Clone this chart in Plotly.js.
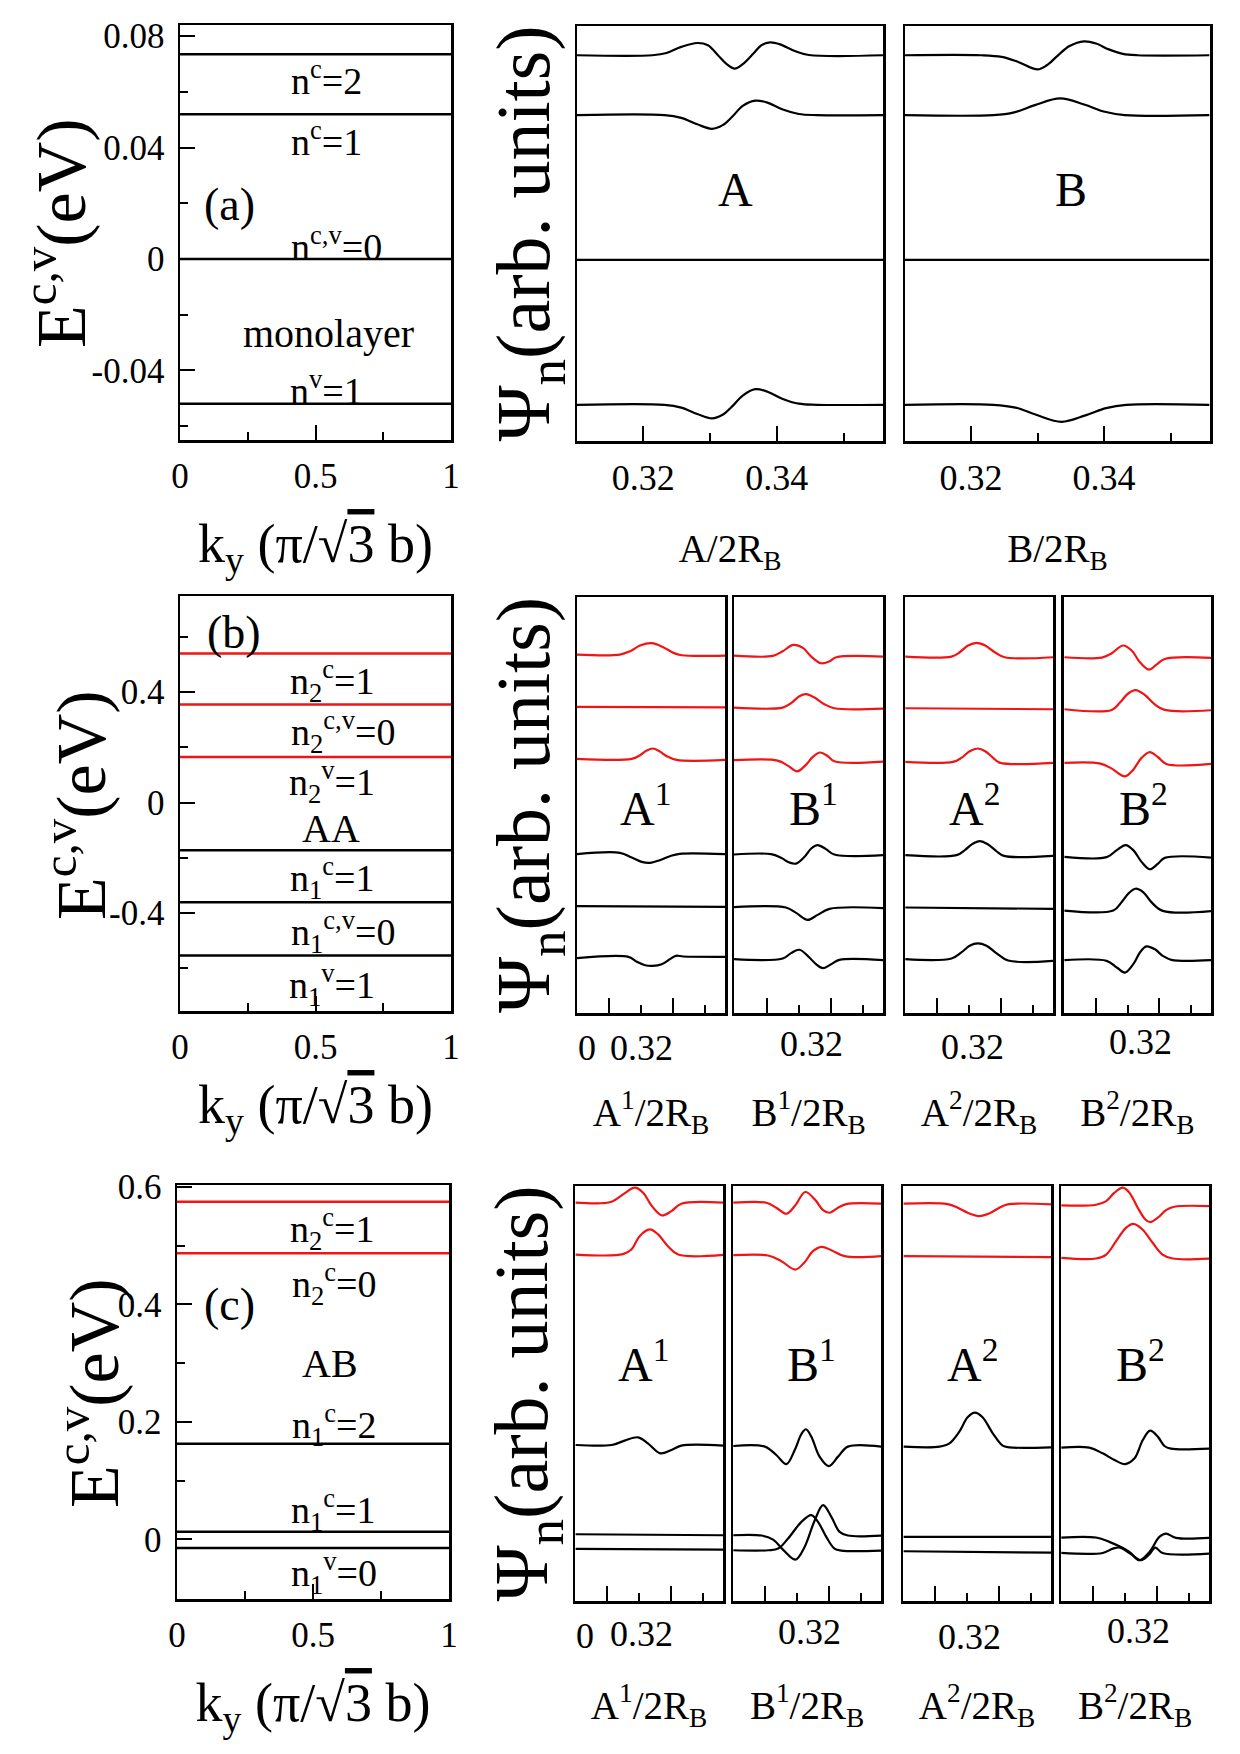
<!DOCTYPE html>
<html><head><meta charset="utf-8">
<script src="https://cdn.plot.ly/plotly-3.0.1.min.js"></script>
<style>html,body{margin:0;padding:0;background:#fff}#chart{width:1240px;height:1754px}</style>
</head><body><div id="chart"></div>
<script>
// ===================== DATA =====================
// --- x-axis tick values of the energy panels ---
const kyEnds = [0, 1];
const kyTicks = [0, 0.5, 1];
const kyTickText = ['0', '0.5', '1'];
const kyMinor = [0.25, 0.75];

// --- (a) monolayer ---
const monoYTicks = [-0.04, 0, 0.04, 0.08];
const monoYTickText = ['-0.04', '0', '0.04', '0.08'];
const monoYMinor = [-0.06, -0.02, 0.02, 0.06];
const monoLevels = [0.0735, 0.052, 0, -0.052];
const monoXTicks = [0.32, 0.34];
const monoXTickText = ['0.32', '0.34'];
const monoXMinor = [0.33, 0.35];

const monoA_x = [
  [0.3101, 0.3214, 0.3235, 0.3257, 0.3281, 0.3297, 0.3312, 0.3325, 0.3337, 0.3349, 0.3365, 0.3377, 0.3390, 0.3405, 0.3427, 0.3448, 0.3559],
  [0.3101, 0.3232, 0.3257, 0.3281, 0.3303, 0.3319, 0.3334, 0.3349, 0.3368, 0.3386, 0.3408, 0.3433, 0.3460, 0.3559],
  [0.3101, 0.3559],
  [0.3101, 0.3232, 0.3257, 0.3281, 0.3303, 0.3319, 0.3334, 0.3349, 0.3368, 0.3386, 0.3408, 0.3433, 0.3460, 0.3559]
];
const monoA_y = [
  [0.0735, 0.0735, 0.0743, 0.0765, 0.0779, 0.0771, 0.0735, 0.0703, 0.0687, 0.0703, 0.0741, 0.0771, 0.0781, 0.0774, 0.0750, 0.0736, 0.0735],
  [0.052, 0.052, 0.0510, 0.0487, 0.0471, 0.0484, 0.0516, 0.0553, 0.0572, 0.0565, 0.0541, 0.0524, 0.052, 0.052],
  [0, 0],
  [-0.052, -0.052, -0.0530, -0.0553, -0.0569, -0.0556, -0.0524, -0.0487, -0.0464, -0.0473, -0.0498, -0.0516, -0.052, -0.052]
];
const monoB_x = [
  [0.3101, 0.3215, 0.3246, 0.3271, 0.3300, 0.3314, 0.3330, 0.3348, 0.3370, 0.3388, 0.3407, 0.3428, 0.3450, 0.3558],
  [0.3101, 0.3234, 0.3265, 0.3296, 0.3334, 0.3370, 0.3401, 0.3431, 0.3558],
  [0.3101, 0.3558],
  [0.3101, 0.3234, 0.3267, 0.3298, 0.3336, 0.3372, 0.3403, 0.3433, 0.3558]
];
const monoB_y = [
  [0.0735, 0.0735, 0.0729, 0.0711, 0.0684, 0.0699, 0.0733, 0.0768, 0.0785, 0.0777, 0.0756, 0.0740, 0.0735, 0.0735],
  [0.052, 0.052, 0.053, 0.0556, 0.058, 0.0558, 0.0532, 0.052, 0.052],
  [0, 0],
  [-0.052, -0.052, -0.053, -0.0556, -0.0581, -0.0558, -0.0532, -0.052, -0.052]
];

// --- (b) AA bilayer ---
const aaYTicks = [-0.4, 0, 0.4];
const aaYTickText = ['-0.4', '0', '0.4'];
const aaYMinor = [-0.6, -0.2, 0.2, 0.6];
const aaLevelsUpper = [0.54, 0.355, 0.165];
const aaLevelsLower = [-0.173, -0.361, -0.554];
const aaLayer = [2, 2, 2, 1, 1, 1];

const aaA1_x = [
  [0.2998, 0.3133, 0.3165, 0.3196, 0.3233, 0.3269, 0.3301, 0.3327, 0.3463],
  [0.2998, 0.3463],
  [0.2998, 0.3170, 0.3196, 0.3217, 0.3236, 0.3257, 0.3280, 0.3311, 0.3463],
  [0.2998, 0.3133, 0.3170, 0.3201, 0.3227, 0.3258, 0.3290, 0.3321, 0.3463],
  [0.2998, 0.3463],
  [0.2998, 0.3160, 0.3186, 0.3212, 0.3236, 0.3264, 0.3290, 0.3309, 0.3332, 0.3463]
];
const aaA1_y = [
  [0.54, 0.54, 0.5521, 0.5727, 0.5812, 0.5667, 0.5461, 0.5376, 0.5364],
  [0.351, 0.349],
  [0.1631, 0.1631, 0.1764, 0.1934, 0.2006, 0.1910, 0.1728, 0.1594, 0.1594],
  [-0.1811, -0.1763, -0.1933, -0.2090, -0.2127, -0.2030, -0.1884, -0.1799, -0.1811],
  [-0.369, -0.3714],
  [-0.5569, -0.5521, -0.5702, -0.5823, -0.5847, -0.5787, -0.5605, -0.5484, -0.5508, -0.5521]
];
const aaB1_x = [
  [0.2996, 0.3119, 0.3150, 0.3183, 0.3213, 0.3239, 0.3270, 0.3296, 0.3317, 0.3463],
  [0.2996, 0.3150, 0.3176, 0.3202, 0.3223, 0.3249, 0.3280, 0.3311, 0.3463],
  [0.2996, 0.3134, 0.3166, 0.3195, 0.3223, 0.3244, 0.3267, 0.3291, 0.3311, 0.3463],
  [0.2996, 0.3114, 0.3145, 0.3171, 0.3192, 0.3218, 0.3239, 0.3259, 0.3285, 0.3311, 0.3463],
  [0.2996, 0.3160, 0.3192, 0.3228, 0.3259, 0.3296, 0.3463],
  [0.2996, 0.3150, 0.3176, 0.3202, 0.3228, 0.3254, 0.3275, 0.3301, 0.3327, 0.3463]
];
const aaB1_y = [
  [0.5364, 0.5352, 0.5521, 0.5751, 0.5642, 0.5327, 0.5085, 0.5158, 0.5303, 0.5327],
  [0.3485, 0.3485, 0.3643, 0.3897, 0.3970, 0.3849, 0.3606, 0.3461, 0.3449],
  [0.1582, 0.1570, 0.1388, 0.1182, 0.1425, 0.1703, 0.1861, 0.1728, 0.1546, 0.1534],
  [-0.1824, -0.1811, -0.1945, -0.2115, -0.2151, -0.1908, -0.1606, -0.1484, -0.1630, -0.1824, -0.1848],
  [-0.3726, -0.3738, -0.3932, -0.4187, -0.4005, -0.3787, -0.3762],
  [-0.5605, -0.5581, -0.5387, -0.5266, -0.5484, -0.5787, -0.5932, -0.5787, -0.5629, -0.5641]
];
const aaA2_x = [
  [0.2999, 0.3144, 0.3170, 0.3196, 0.3224, 0.3250, 0.3280, 0.3311, 0.3463],
  [0.2999, 0.3463],
  [0.2999, 0.3149, 0.3175, 0.3201, 0.3227, 0.3250, 0.3275, 0.3295, 0.3463],
  [0.2999, 0.3160, 0.3186, 0.3209, 0.3233, 0.3259, 0.3285, 0.3309, 0.3463],
  [0.2999, 0.3463],
  [0.2999, 0.3144, 0.3175, 0.3201, 0.3227, 0.3254, 0.3285, 0.3322, 0.3463]
];
const aaA2_y = [
  [0.5327, 0.5327, 0.5485, 0.5727, 0.5824, 0.5727, 0.5485, 0.5303, 0.5303],
  [0.3461, 0.3424],
  [0.1522, 0.1522, 0.1667, 0.1909, 0.2006, 0.1909, 0.1667, 0.1497, 0.1485],
  [-0.1848, -0.1848, -0.1666, -0.1448, -0.1339, -0.1460, -0.1702, -0.1872, -0.1872],
  [-0.3738, -0.3787],
  [-0.5605, -0.5581, -0.5363, -0.5120, -0.5035, -0.5120, -0.5387, -0.5654, -0.5666]
];
const aaB2_x = [
  [0.3001, 0.3119, 0.3150, 0.3186, 0.3213, 0.3239, 0.3267, 0.3291, 0.3317, 0.3463],
  [0.3001, 0.3150, 0.3176, 0.3202, 0.3225, 0.3254, 0.3285, 0.3317, 0.3463],
  [0.3001, 0.3114, 0.3150, 0.3192, 0.3218, 0.3244, 0.3270, 0.3296, 0.3322, 0.3463],
  [0.3001, 0.3134, 0.3166, 0.3194, 0.3218, 0.3244, 0.3270, 0.3296, 0.3317, 0.3463],
  [0.3001, 0.3155, 0.3181, 0.3204, 0.3225, 0.3249, 0.3275, 0.3311, 0.3463],
  [0.3001, 0.3134, 0.3166, 0.3192, 0.3218, 0.3239, 0.3259, 0.3285, 0.3311, 0.3338, 0.3463]
];
const aaB2_y = [
  [0.5303, 0.5291, 0.5448, 0.5727, 0.5545, 0.5121, 0.4855, 0.5036, 0.5242, 0.5279],
  [0.3424, 0.3400, 0.3667, 0.3994, 0.4115, 0.3946, 0.3606, 0.3400, 0.3388],
  [0.1485, 0.1461, 0.1279, 0.1000, 0.1243, 0.1667, 0.1873, 0.1691, 0.1449, 0.1449],
  [-0.1908, -0.1920, -0.1666, -0.1484, -0.1666, -0.2090, -0.2357, -0.2151, -0.1945, -0.1933],
  [-0.3848, -0.3848, -0.3545, -0.3217, -0.3060, -0.3181, -0.3545, -0.3860, -0.3872],
  [-0.5641, -0.5666, -0.5908, -0.6090, -0.5787, -0.5363, -0.5144, -0.5241, -0.5484, -0.5629, -0.5641]
];

// --- (c) AB bilayer ---
const abYTicks = [0, 0.2, 0.4, 0.6];
const abYTickText = ['0', '0.2', '0.4', '0.6'];
const abYMinor = [0.1, 0.3, 0.5];
const abLevelsUpper = [0.575, 0.487];
const abLevelsLower = [0.163, 0.0128, -0.0146];
const abLayer = [2, 2, 1, 1, 1];

const abA1_x = [
  [0.3000, 0.3071, 0.3113, 0.3149, 0.3186, 0.3212, 0.3238, 0.3271, 0.3301, 0.3332, 0.3463],
  [0.3000, 0.3149, 0.3175, 0.3201, 0.3233, 0.3259, 0.3290, 0.3322, 0.3463],
  [0.3000, 0.3113, 0.3154, 0.3196, 0.3227, 0.3266, 0.3301, 0.3332, 0.3463],
  [0.3000, 0.3463],
  [0.3000, 0.3463]
];
const abA1_y = [
  [0.575, 0.5739, 0.5767, 0.5892, 0.6005, 0.5920, 0.5705, 0.5534, 0.5608, 0.5733, 0.575],
  [0.4870, 0.4876, 0.4955, 0.5182, 0.5296, 0.5211, 0.5012, 0.4870, 0.4865],
  [0.1635, 0.1635, 0.1709, 0.1765, 0.1663, 0.1493, 0.1550, 0.1624, 0.1624],
  [0.0119, 0.0102],
  [-0.0130, -0.0142]
];
const abB1_x = [
  [0.2999, 0.3103, 0.3134, 0.3166, 0.3192, 0.3225, 0.3255, 0.3281, 0.3302, 0.3328, 0.3354, 0.3464],
  [0.2999, 0.3108, 0.3150, 0.3194, 0.3223, 0.3249, 0.3276, 0.3307, 0.3349, 0.3464],
  [0.2999, 0.3098, 0.3134, 0.3166, 0.3192, 0.3213, 0.3227, 0.3244, 0.3270, 0.3299, 0.3328, 0.3359, 0.3464],
  [0.2999, 0.3088, 0.3124, 0.3155, 0.3194, 0.3223, 0.3255, 0.3281, 0.3307, 0.3333, 0.3359, 0.3464],
  [0.2999, 0.3109, 0.3140, 0.3171, 0.3213, 0.3244, 0.3265, 0.3291, 0.3317, 0.3338, 0.3464]
];
const abB1_y = [
  [0.575, 0.575, 0.5665, 0.5563, 0.5693, 0.5932, 0.5807, 0.5625, 0.5580, 0.5665, 0.5727, 0.5733],
  [0.4859, 0.4853, 0.4757, 0.4615, 0.4740, 0.4927, 0.5001, 0.4944, 0.4842, 0.4842],
  [0.1618, 0.1607, 0.1465, 0.1311, 0.1550, 0.1822, 0.1902, 0.1777, 0.1437, 0.1277, 0.1437, 0.1607, 0.1607],
  [0.0102, 0.0097, 0.0028, -0.0142, -0.0312, -0.0096, 0.0358, 0.0613, 0.0415, 0.0159, 0.0097, 0.0097],
  [-0.0153, -0.0153, -0.0125, 0.0046, 0.0329, 0.0443, 0.0329, 0.0074, -0.0125, -0.0159, -0.0159]
];
const abA2_x = [
  [0.3000, 0.3138, 0.3170, 0.3201, 0.3238, 0.3269, 0.3301, 0.3327, 0.3463],
  [0.3000, 0.3463],
  [0.3000, 0.3113, 0.3144, 0.3175, 0.3201, 0.3224, 0.3248, 0.3280, 0.3311, 0.3332, 0.3463],
  [0.3000, 0.3463],
  [0.3000, 0.3463]
];
const abA2_y = [
  [0.5733, 0.5727, 0.5665, 0.5580, 0.5523, 0.5568, 0.5665, 0.5722, 0.5722],
  [0.4842, 0.4825],
  [0.1607, 0.1607, 0.1663, 0.1862, 0.2106, 0.2186, 0.2106, 0.1834, 0.1624, 0.1595, 0.1595],
  [0.0074, 0.0074],
  [-0.0170, -0.0193]
];
const abB2_x = [
  [0.2999, 0.3108, 0.3140, 0.3166, 0.3192, 0.3213, 0.3239, 0.3263, 0.3278, 0.3302, 0.3328, 0.3354, 0.3464],
  [0.2999, 0.3108, 0.3140, 0.3171, 0.3202, 0.3225, 0.3254, 0.3286, 0.3317, 0.3349, 0.3464],
  [0.2999, 0.3087, 0.3129, 0.3166, 0.3200, 0.3229, 0.3255, 0.3278, 0.3302, 0.3323, 0.3343, 0.3464],
  [0.2999, 0.3108, 0.3150, 0.3213, 0.3244, 0.3276, 0.3307, 0.3328, 0.3359, 0.3464],
  [0.2999, 0.3129, 0.3161, 0.3184, 0.3213, 0.3249, 0.3276, 0.3294, 0.3317, 0.3464]
];
const abB2_y = [
  [0.5705, 0.5716, 0.5778, 0.5920, 0.6005, 0.5920, 0.5665, 0.5466, 0.5421, 0.5495, 0.5625, 0.5682, 0.5693],
  [0.4813, 0.4802, 0.4870, 0.5097, 0.5324, 0.5392, 0.5296, 0.5069, 0.4870, 0.4802, 0.4802],
  [0.1590, 0.1590, 0.1493, 0.1380, 0.1311, 0.1408, 0.1720, 0.1879, 0.1777, 0.1618, 0.1573, 0.1573],
  [0.0063, 0.0063, -0.0011, -0.0181, -0.0323, -0.0181, 0.0074, 0.0131, 0.0057, 0.0057],
  [-0.0199, -0.0199, -0.0125, -0.0108, -0.0199, -0.0323, -0.0221, -0.0108, -0.0199, -0.0210]
];

// small-panel x ticks (rows b, c)
const smallMajor = [0.31, 0.33];
const smallMinor = [0.32, 0.34];

// ===================== LAYOUT / DRAWING =====================
const FONT = '"Liberation Serif", "Times New Roman", Times, serif';
const RED = '#f01414';
const W = 1240, H = 1754;
const dX = (l, r) => [l / W, r / W];
const dY = (t, b) => [1 - b / H, 1 - t / H];

function baseAxis(o) {
  return Object.assign({
    showline: true, linecolor: '#000', linewidth: 2.5, mirror: true,
    showgrid: false, zeroline: false, ticks: 'inside', tickcolor: '#000',
    tickwidth: 2, ticklen: 15, tickmode: 'array',
    tickfont: {family: FONT, size: 35, color: '#000'},
    ticklabelstandoff: 5, fixedrange: true
  }, o);
}
function minorTicks(vals) {
  return {tickmode: 'array', tickvals: vals, ticks: 'inside', ticklen: 8,
          tickwidth: 2, tickcolor: '#000', showgrid: false};
}

const traces = [];
function ax(i) { return i === 1 ? '' : String(i); }
function addLevels(levels, color, i) {
  levels.forEach(E => traces.push({
    x: kyEnds, y: [E, E], xaxis: 'x' + ax(i), yaxis: 'y' + ax(i),
    mode: 'lines', line: {color: color, width: 2.5}, hoverinfo: 'skip'
  }));
}
function addCurves(xs, ys, layer, i) {
  xs.forEach((xv, k) => traces.push({
    x: xv, y: ys[k], xaxis: 'x' + ax(i), yaxis: 'y' + ax(i), mode: 'lines',
    line: {color: layer && layer[k] === 2 ? RED : '#000', width: 2.2, shape: 'spline', smoothing: 1},
    hoverinfo: 'skip'
  }));
}

addLevels(monoLevels, '#000', 1);
addCurves(monoA_x, monoA_y, null, 2);
addCurves(monoB_x, monoB_y, null, 3);
addLevels(aaLevelsUpper, RED, 4);
addLevels(aaLevelsLower, '#000', 4);
addCurves(aaA1_x, aaA1_y, aaLayer, 5);
addCurves(aaB1_x, aaB1_y, aaLayer, 6);
addCurves(aaA2_x, aaA2_y, aaLayer, 7);
addCurves(aaB2_x, aaB2_y, aaLayer, 8);
addLevels(abLevelsUpper, RED, 9);
addLevels(abLevelsLower, '#000', 9);
addCurves(abA1_x, abA1_y, abLayer, 10);
addCurves(abB1_x, abB1_y, abLayer, 11);
addCurves(abA2_x, abA2_y, abLayer, 12);
addCurves(abB2_x, abB2_y, abLayer, 13);

const KY_TITLE = 'k<sub>y</sub> (π/√<span style="text-decoration:overline">3</span> b)';
const E_TITLE = 'E<sup>c,v</sup>(eV)';
const PSI_TITLE = 'Ψ<sub>n</sub>(arb. units)';
const tFont = s => ({family: FONT, size: s, color: '#000'});

const layout = {
  width: W, height: H, margin: {l: 0, r: 0, t: 0, b: 0},
  paper_bgcolor: '#fff', plot_bgcolor: '#fff', showlegend: false,
  font: {family: FONT, color: '#000'},
  annotations: []
};

const yrA = [-0.065, 0.084], yrB = [-0.755, 0.748], yrC = [-0.1015, 0.6034];
const xrMono = [0.3101, 0.3559], xrSmall = [0.2998, 0.3463];

function leftPanel(i, xd, yd, yr, yt, ytt, ym, ttlStand) {
  layout['xaxis' + ax(i)] = baseAxis({domain: dX(...xd), range: [0, 1], anchor: 'y' + ax(i),
    tickvals: kyTicks, ticktext: kyTickText, minor: minorTicks(kyMinor), ticklabelstandoff: 3,
    title: {text: KY_TITLE, font: tFont(54), standoff: ttlStand}});
  layout['yaxis' + ax(i)] = baseAxis({domain: dY(...yd), range: yr, anchor: 'x' + ax(i),
    tickvals: yt, ticktext: ytt, minor: minorTicks(ym), ticklabelstandoff: 6});
}
function rightPanel(i, xd, yd, yr, xr, xopts, ytitle) {
  layout['xaxis' + ax(i)] = baseAxis(Object.assign({domain: dX(...xd), range: xr, anchor: 'y' + ax(i)}, xopts));
  const y = baseAxis({domain: dY(...yd), range: yr, anchor: 'x' + ax(i), ticks: '', showticklabels: false});
  if (ytitle) y.title = {text: PSI_TITLE, font: tFont(76), standoff: 0};
  layout['yaxis' + ax(i)] = y;
}
const monoX = t => ({tickvals: monoXTicks, ticktext: monoXTickText, minor: minorTicks(monoXMinor),
  tickfont: tFont(36), ticklabelstandoff: 3, title: {text: t, font: tFont(39), standoff: 38}});
const smallX = (t, st) => ({tickvals: smallMajor, showticklabels: false, minor: minorTicks(smallMinor),
  title: {text: t, font: tFont(39), standoff: st}});

// row (a)
leftPanel(1, [180, 451], [25, 440], yrA, monoYTicks, monoYTickText, monoYMinor, 30);
rightPanel(2, [577, 883], [26, 441], yrA, xrMono, monoX('A/2R<sub>B</sub>'), true);
rightPanel(3, [905, 1210], [26, 441], yrA, xrMono, monoX('B/2R<sub>B</sub>'), false);
// row (b)
leftPanel(4, [180, 451], [596, 1011], yrB, aaYTicks, aaYTickText, aaYMinor, 20);
rightPanel(5, [577, 725], [597, 1013], yrB, xrSmall, smallX('A<sup>1</sup>/2R<sub>B</sub>', 84), true);
rightPanel(6, [734, 883], [597, 1013], yrB, xrSmall, smallX('B<sup>1</sup>/2R<sub>B</sub>', 84), false);
rightPanel(7, [905, 1053], [597, 1013], yrB, xrSmall, smallX('A<sup>2</sup>/2R<sub>B</sub>', 84), false);
rightPanel(8, [1063.5, 1211], [597, 1013], yrB, xrSmall, smallX('B<sup>2</sup>/2R<sub>B</sub>', 84), false);
// row (c)
leftPanel(9, [177, 449], [1185, 1599], yrC, abYTicks, abYTickText, abYMinor, 30);
rightPanel(10, [575, 723], [1186, 1601], yrC, xrSmall, smallX('A<sup>1</sup>/2R<sub>B</sub>', 89), true);
rightPanel(11, [733, 881], [1186, 1601], yrC, xrSmall, smallX('B<sup>1</sup>/2R<sub>B</sub>', 89), false);
rightPanel(12, [903, 1051], [1186, 1601], yrC, xrSmall, smallX('A<sup>2</sup>/2R<sub>B</sub>', 89), false);
rightPanel(13, [1061, 1209], [1186, 1601], yrC, xrSmall, smallX('B<sup>2</sup>/2R<sub>B</sub>', 89), false);

function lab(text, xref, yref, x, y, size, angle) {
  layout.annotations.push({text: text, xref: xref, yref: yref, x: x, y: y, textangle: angle || 0,
    xanchor: 'center', yanchor: 'middle', showarrow: false, font: tFont(size)});
}
// energy axis titles (rotated)
lab(E_TITLE, 'paper', 'paper', 56 / W, 1 - 233 / H, 70, -90);
lab(E_TITLE, 'paper', 'paper', 76 / W, 1 - 805 / H, 70, -90);
lab(E_TITLE, 'paper', 'paper', 89 / W, 1 - 1393 / H, 70, -90);
// (a)
lab('n<sup>c</sup>=2', 'x', 'y', 0.542, 0.0648, 38);
lab('n<sup>c</sup>=1', 'x', 'y', 0.539, 0.0432, 38);
lab('(a)', 'x', 'y', 0.183, 0.0197, 46);
lab('n<sup>c,v</sup>=0', 'x', 'y', 0.579, 0.0054, 38);
lab('monolayer', 'x', 'y', 0.547, -0.0266, 40);
lab('n<sup>v</sup>=1', 'x', 'y', 0.539, -0.0464, 38);
lab('A', 'x2', 'y2', 0.3338, 0.0252, 48);
lab('B', 'x3', 'y3', 0.3350, 0.0252, 48);
// (b)
lab('(b)', 'x4', 'y4', 0.199, 0.615, 46);
lab('n<sub>2</sub><sup>c</sup>=1', 'x4', 'y4', 0.561, 0.44, 38);
lab('n<sub>2</sub><sup>c,v</sup>=0', 'x4', 'y4', 0.601, 0.255, 38);
lab('n<sub>2</sub><sup>v</sup>=1', 'x4', 'y4', 0.561, 0.076, 38);
lab('AA', 'x4', 'y4', 0.558, -0.094, 40);
lab('n<sub>1</sub><sup>c</sup>=1', 'x4', 'y4', 0.561, -0.274, 38);
lab('n<sub>1</sub><sup>c,v</sup>=0', 'x4', 'y4', 0.601, -0.469, 38);
lab('n<sub>1</sub><sup>v</sup>=1', 'x4', 'y4', 0.561, -0.661, 38);
lab('A<sup>1</sup>', 'x5', 'y5', 0.3212, -0.005, 48);
lab('B<sup>1</sup>', 'x6', 'y6', 0.3246, -0.005, 48);
lab('A<sup>2</sup>', 'x7', 'y7', 0.3217, -0.005, 48);
lab('B<sup>2</sup>', 'x8', 'y8', 0.3250, -0.005, 48);
lab('0', 'x5', 'paper', 0.3029, 0.4025, 36);
lab('0.32', 'x5', 'paper', 0.3200, 0.4025, 36);
lab('0.32', 'x6', 'paper', 0.3240, 0.4050, 36);
lab('0.32', 'x7', 'paper', 0.3210, 0.4031, 36);
lab('0.32', 'x8', 'paper', 0.3240, 0.4059, 36);
// (c)
lab('n<sub>2</sub><sup>c</sup>=1', 'x9', 'y9', 0.571, 0.528, 38);
lab('n<sub>2</sub><sup>c</sup>=0', 'x9', 'y9', 0.578, 0.435, 38);
lab('(c)', 'x9', 'y9', 0.194, 0.400, 46);
lab('AB', 'x9', 'y9', 0.564, 0.299, 40);
lab('n<sub>1</sub><sup>c</sup>=2', 'x9', 'y9', 0.578, 0.195, 38);
lab('n<sub>1</sub><sup>c</sup>=1', 'x9', 'y9', 0.574, 0.050, 38);
lab('n<sub>1</sub><sup>v</sup>=0', 'x9', 'y9', 0.578, -0.058, 38);
lab('A<sup>1</sup>', 'x10', 'y10', 0.3212, 0.307, 48);
lab('B<sup>1</sup>', 'x11', 'y11', 0.3246, 0.307, 48);
lab('A<sup>2</sup>', 'x12', 'y12', 0.3217, 0.307, 48);
lab('B<sup>2</sup>', 'x13', 'y13', 0.3248, 0.307, 48);
lab('0', 'x10', 'paper', 0.3029, 0.0673, 36);
lab('0.32', 'x10', 'paper', 0.3206, 0.0684, 36);
lab('0.32', 'x11', 'paper', 0.3238, 0.0696, 36);
lab('0.32', 'x12', 'paper', 0.3206, 0.0667, 36);
lab('0.32', 'x13', 'paper', 0.3240, 0.0701, 36);

Plotly.newPlot('chart', traces, layout, {staticPlot: true, displayModeBar: false});
</script></body></html>
